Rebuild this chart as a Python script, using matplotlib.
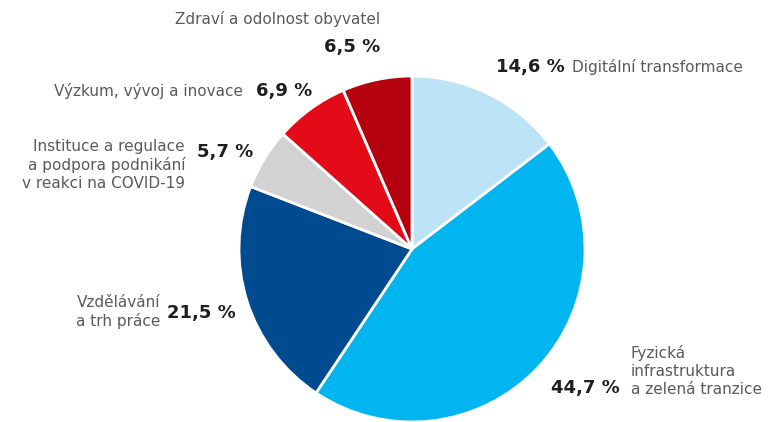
import matplotlib.pyplot as plt

labels = ['Digitální transformace', 'Fyzická\ninfrastruktura\na zelená tranzice',
          'Vzdělávání\na trh práce', 'Instituce a regulace\na podpora podnikání\nv reakci na COVID-19',
          'Výzkum, vývoj a inovace', 'Zdraví a odolnost obyvatel']
values = [14.6, 44.7, 21.5, 5.7, 6.9, 6.5]
pct_labels = ['14,6 %', '44,7 %', '21,5 %', '5,7 %', '6,9 %', '6,5 %']
colors = ['#bde3f7', '#00b5f0', '#004a8f', '#d2d2d2', '#e30b17', '#b5000d']

plt.rcParams['font.family'] = ['DejaVu Sans']

W, H = 778, 422
cx, cy, r = 412, 249, 173
fig = plt.figure(figsize=(W / 100, H / 100), dpi=100)
ax = fig.add_axes([(cx - r) / W, (H - cy - r) / H, 2 * r / W, 2 * r / H])
ax.pie(values, colors=colors, startangle=90, counterclock=False,
       wedgeprops=dict(edgecolor='white', linewidth=2))
ax.set_xlim(-1, 1)
ax.set_ylim(-1, 1)
ax.set_aspect('equal')
ax.axis('off')


def px(x, y):
    return (x - cx) / r, (cy - y) / r


gray = '#5a5a5a'
dark = '#1e1e1e'
name_fs = 11
pct_fs = 13

# (name position, name ha, pct position, pct ha)
spots = [
    ((572, 67), 'left', (565, 67), 'right'),
    ((631, 371), 'left', (620, 388), 'right'),
    ((160, 312), 'right', (236, 313), 'right'),
    ((185, 165), 'right', (253, 152), 'right'),
    ((243, 91), 'right', (312, 91), 'right'),
    ((380, 19), 'right', (380, 47), 'right'),
]

for name, pct, (npos, nha, ppos, pha) in zip(labels, pct_labels, spots):
    ax.text(*px(*npos), name, ha=nha, va='center', fontsize=name_fs, color=gray,
            linespacing=1.25, multialignment=nha, clip_on=False)
    ax.text(*px(*ppos), pct, ha=pha, va='center', fontsize=pct_fs, color=dark,
            fontweight='bold', clip_on=False)

fig.savefig('out.png', dpi=100)
